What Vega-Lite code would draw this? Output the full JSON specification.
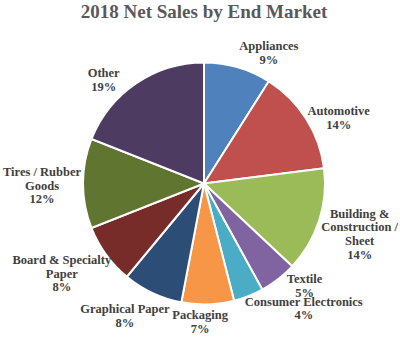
{
  "$schema": "https://vega.github.io/schema/vega-lite/v6.json",
  "width": 400,
  "height": 305,
  "autosize": "none",
  "padding": {"left": 4, "right": 0, "top": 31, "bottom": 1},
  "background": "white",
  "title": {
    "text": "2018 Net Sales by End Market",
    "font": "Liberation Serif",
    "fontSize": 19,
    "fontWeight": "bold",
    "color": "#595959",
    "anchor": "middle",
    "frame": "group",
    "baseline": "alphabetic",
    "offset": -6
  },
  "data": {
    "values": [
      {"idx": 1, "market": "Appliances", "share": 9, "label": "Appliances\n9%"},
      {"idx": 2, "market": "Automotive", "share": 14, "label": "Automotive\n14%"},
      {"idx": 3, "market": "Building & Construction / Sheet", "share": 14, "label": "Building &\nConstruction /\nSheet\n14%"},
      {"idx": 4, "market": "Textile", "share": 5, "label": "Textile\n5%"},
      {"idx": 5, "market": "Consumer Electronics", "share": 4, "label": "Consumer Electronics\n4%"},
      {"idx": 6, "market": "Packaging", "share": 7, "label": "Packaging\n7%"},
      {"idx": 7, "market": "Graphical Paper", "share": 8, "label": "Graphical Paper\n8%"},
      {"idx": 8, "market": "Board & Specialty Paper", "share": 8, "label": "Board & Specialty\nPaper\n8%"},
      {"idx": 9, "market": "Tires / Rubber Goods", "share": 12, "label": "Tires / Rubber\nGoods\n12%"},
      {"idx": 10, "market": "Other", "share": 19, "label": "Other\n19%"}
    ]
  },
  "encoding": {
    "theta": {"field": "share", "type": "quantitative", "stack": true},
    "order": {"field": "idx", "type": "quantitative"}
  },
  "layer": [
    {
      "mark": {"type": "arc", "outerRadius": 121, "stroke": "white", "strokeWidth": 2},
      "encoding": {
        "color": {
          "field": "market",
          "type": "nominal",
          "legend": null,
          "scale": {
            "domain": ["Appliances", "Automotive", "Building & Construction / Sheet", "Textile", "Consumer Electronics", "Packaging", "Graphical Paper", "Board & Specialty Paper", "Tires / Rubber Goods", "Other"],
            "range": ["#4F81BD", "#C0504D", "#9BBB59", "#8064A2", "#4BACC6", "#F79646", "#2C4D75", "#772C2A", "#5F7530", "#4D3B62"]
          }
        }
      }
    },
    {
      "mark": {"type": "text", "radius": 150, "dx": 23, "dy": 7, "font": "Liberation Serif", "fontSize": 12.5, "fontWeight": "bold", "color": "#404040", "lineBreak": "\n", "lineHeight": 13.7, "align": "center", "baseline": "middle"},
      "encoding": {"text": {"condition": {"test": "datum.idx == 1", "field": "label"}, "value": ""}}
    },
    {
      "mark": {"type": "text", "radius": 150, "dx": 8, "dy": 8, "font": "Liberation Serif", "fontSize": 12.5, "fontWeight": "bold", "color": "#404040", "lineBreak": "\n", "lineHeight": 13.7, "align": "center", "baseline": "middle"},
      "encoding": {"text": {"condition": {"test": "datum.idx == 2", "field": "label"}, "value": ""}}
    },
    {
      "mark": {"type": "text", "radius": 130, "dx": 32, "dy": -10, "font": "Liberation Serif", "fontSize": 12.5, "fontWeight": "bold", "color": "#404040", "lineBreak": "\n", "lineHeight": 13.7, "align": "center", "baseline": "middle"},
      "encoding": {"text": {"condition": {"test": "datum.idx == 3", "field": "label"}, "value": ""}}
    },
    {
      "mark": {"type": "text", "radius": 120, "dx": 27, "dy": 1, "font": "Liberation Serif", "fontSize": 12.5, "fontWeight": "bold", "color": "#404040", "lineBreak": "\n", "lineHeight": 13.7, "align": "center", "baseline": "middle"},
      "encoding": {"text": {"condition": {"test": "datum.idx == 4", "field": "label"}, "value": ""}}
    },
    {
      "mark": {"type": "text", "radius": 127, "dx": 53, "dy": 0, "font": "Liberation Serif", "fontSize": 12.5, "fontWeight": "bold", "color": "#404040", "lineBreak": "\n", "lineHeight": 13.7, "align": "center", "baseline": "middle"},
      "encoding": {"text": {"condition": {"test": "datum.idx == 5", "field": "label"}, "value": ""}}
    },
    {
      "mark": {"type": "text", "radius": 131.5, "dx": -8, "dy": 0, "font": "Liberation Serif", "fontSize": 12.5, "fontWeight": "bold", "color": "#404040", "lineBreak": "\n", "lineHeight": 13.7, "align": "center", "baseline": "middle"},
      "encoding": {"text": {"condition": {"test": "datum.idx == 6", "field": "label"}, "value": ""}}
    },
    {
      "mark": {"type": "text", "radius": 138.7, "dx": -20, "dy": 0, "font": "Liberation Serif", "fontSize": 12.5, "fontWeight": "bold", "color": "#404040", "lineBreak": "\n", "lineHeight": 13.7, "align": "center", "baseline": "middle"},
      "encoding": {"text": {"condition": {"test": "datum.idx == 7", "field": "label"}, "value": ""}}
    },
    {
      "mark": {"type": "text", "radius": 130, "dx": -37, "dy": 0, "font": "Liberation Serif", "fontSize": 12.5, "fontWeight": "bold", "color": "#404040", "lineBreak": "\n", "lineHeight": 13.7, "align": "center", "baseline": "middle"},
      "encoding": {"text": {"condition": {"test": "datum.idx == 8", "field": "label"}, "value": ""}}
    },
    {
      "mark": {"type": "text", "radius": 100, "dx": -62, "dy": -11.5, "font": "Liberation Serif", "fontSize": 12.5, "fontWeight": "bold", "color": "#404040", "lineBreak": "\n", "lineHeight": 13.7, "align": "center", "baseline": "middle"},
      "encoding": {"text": {"condition": {"test": "datum.idx == 9", "field": "label"}, "value": ""}}
    },
    {
      "mark": {"type": "text", "radius": 150, "dx": -16, "dy": 14, "font": "Liberation Serif", "fontSize": 12.5, "fontWeight": "bold", "color": "#404040", "lineBreak": "\n", "lineHeight": 13.7, "align": "center", "baseline": "middle"},
      "encoding": {"text": {"condition": {"test": "datum.idx == 10", "field": "label"}, "value": ""}}
    }
  ],
  "config": {"view": {"stroke": null}}
}
